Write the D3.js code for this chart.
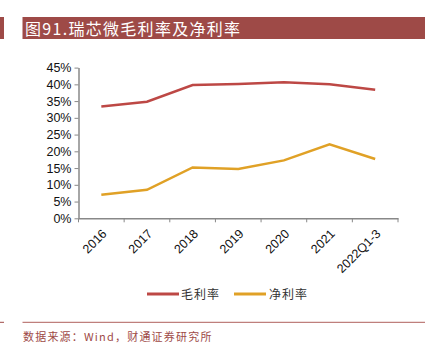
<!DOCTYPE html>
<html><head><meta charset="utf-8">
<script src="https://cdn.jsdelivr.net/npm/d3@7"></script>
<style>body{margin:0;background:#fff}svg{display:block}</style>
</head><body>
<script>
const categories = ["2016","2017","2018","2019","2020","2021","2022Q1-3"];
const grossMargin = [33.4, 34.8, 39.8, 40.1, 40.6, 40.0, 38.4];
const netMargin = [7.0, 8.5, 15.2, 14.7, 17.3, 22.1, 17.7];
const yTicks = [0,5,10,15,20,25,30,35,40,45];
const seriesNames = ["毛利率","净利率"];
const colors = ["#bd4845","#e0a126"];

const W=427,H=354;
const svg=d3.select("body").append("svg").attr("width",W).attr("height",H);
const dark="#9e4a47";
// header
svg.append("rect").attr("x",0).attr("y",17).attr("width",4).attr("height",22).attr("fill",dark);
svg.append("rect").attr("x",22.5).attr("y",17).attr("width",402.5).attr("height",22).attr("fill",dark);
svg.append("text").attr("x",25).attr("y",34.5).attr("fill","#fff")
  .style("font-family","'Noto Sans CJK SC'").style("font-size","16px").style("letter-spacing","1.3px")
  .text("图91.瑞芯微毛利率及净利率");

const x=d3.scaleBand().domain(categories).range([78.5,398]);
const y=d3.scaleLinear().domain([0,45]).range([218.3,67.6]);
const axisColor="#888";
const yAxis=svg.append("g").attr("transform","translate(78.5,0)")
  .call(d3.axisLeft(y).tickValues(yTicks).tickFormat(d=>d+"%").tickSize(4).tickSizeOuter(0));
const xAxis=svg.append("g").attr("transform","translate(0,218.3)")
  .call(d3.axisBottom(x).tickSize(4).tickSizeOuter(0));
xAxis.selectAll(".tick line").remove();
const edges=categories.map(c=>x(c)).concat([x.range()[1]]);
xAxis.selectAll(".edge").data(edges).enter().append("line")
  .attr("x1",d=>d).attr("x2",d=>d).attr("y1",0).attr("y2",4).attr("stroke",axisColor);
[yAxis,xAxis].forEach(g=>{
  g.select(".domain").attr("stroke",axisColor).attr("stroke-width",1.5);
  g.selectAll("line").attr("stroke",axisColor);
  g.selectAll("text").attr("fill","#111").style("font-family","'Liberation Sans',Arial").style("font-size","12.5px");
});
yAxis.selectAll("text").attr("x",-7);
xAxis.selectAll(".tick text").attr("transform","translate(0,10) rotate(-45)")
  .attr("text-anchor","end").attr("dy","0.7em").attr("y",0).attr("x",0);

const line=d3.line().x((d,i)=>x(categories[i])+x.bandwidth()/2).y(d=>y(d));
[grossMargin,netMargin].forEach((s,i)=>{
  svg.append("path").datum(s).attr("d",line).attr("fill","none")
    .attr("stroke",colors[i]).attr("stroke-width",2.5);
});
// legend
const leg=[{x:147,tx:181},{x:234,tx:269}];
seriesNames.forEach((n,i)=>{
  svg.append("line").attr("x1",leg[i].x).attr("x2",leg[i].x+32).attr("y1",294).attr("y2",294)
    .attr("stroke",colors[i]).attr("stroke-width",3);
  svg.append("text").attr("x",leg[i].tx).attr("y",298.5).attr("fill","#333")
    .style("font-family","'Noto Sans CJK SC'").style("font-size","12px").style("letter-spacing","1px").text(n);
});
// footer
svg.append("rect").attr("x",0).attr("y",321.8).attr("width",4).attr("height",1).attr("fill",dark);
svg.append("rect").attr("x",22.5).attr("y",321.8).attr("width",402.5).attr("height",1).attr("fill","#b0605c");
svg.append("text").attr("x",23).attr("y",341).attr("fill","#9e4a47")
  .style("font-family","'Noto Sans CJK SC'").style("font-size","11px").style("letter-spacing","1.2px")
  .text("数据来源：Wind，财通证券研究所");
</script>
</body></html>
